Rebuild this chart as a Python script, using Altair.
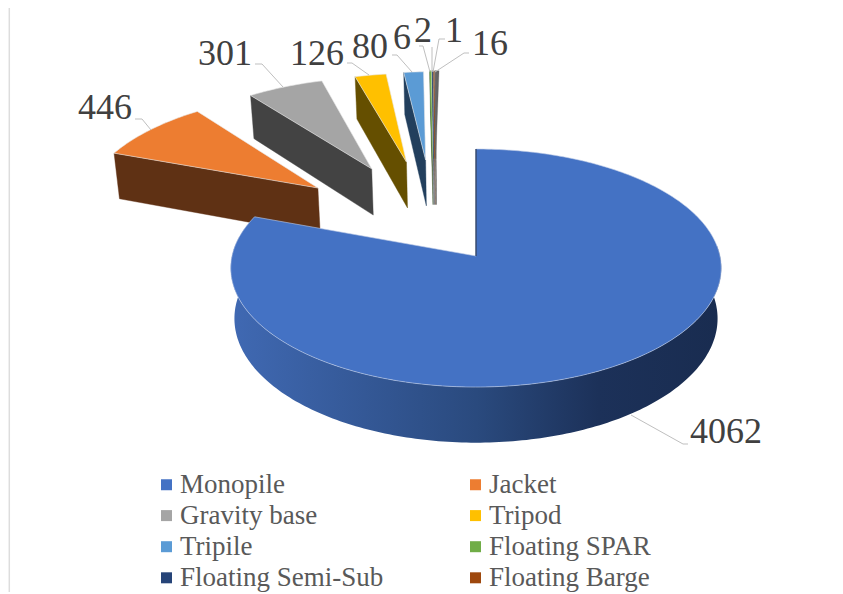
import math
import altair as alt
import pandas as pd

# ---- chart values ----
categories = ["Monopile", "Jacket", "Gravity base", "Tripod", "Tripile",
              "Floating SPAR", "Floating Semi-Sub", "Floating Barge", "Other"]
values = [4062, 446, 301, 126, 80, 6, 2, 1, 16]
top_colors = ["#4472C4", "#ED7D31", "#A5A5A5", "#FFC000", "#5B9BD5",
              "#70AD47", "#264478", "#9E480E", "#636363"]
wall_colors = ["#1A2D52", "#5F3114", "#434343", "#654F00", "#223F5D",
               "#2F4A1E", "#101C30", "#3F1D06", "#303030"]
# explosion of each slice in pie-radius units (sideways, backwards), and its radius
explode_u = [0, -0.688, -0.462, -0.31, -0.225, -0.195, -0.19, -0.185, -0.18]
explode_v = [0, 0.613, 0.800, 0.868, 0.888, 0.900, 0.900, 0.900, 0.900]
slice_scale = [1, 1, 0.99, 0.97, 0.97, 0.97, 0.97, 0.97, 0.97]

legend_names = categories[:8]
legend_colors = top_colors[:8]

label_x = [726, 105, 225, 317, 370, 402, 423, 454, 490]
label_y = [432, 108, 54, 54, 47, 38, 31, 31, 44]
leader_x = [[688, 683, 631], [135, 142, 151], [255, 262, 283], [347, 352, 369],
            [392, 397, 412], [419, 423, 430], [432, 432], [445, 439, 433], [469, 464, 435]]
leader_y = [[444, 444, 415], [119, 119, 130], [64, 64, 87], [63, 63, 75],
            [55, 55, 72], [46, 46, 72], [47, 72], [39, 39, 72], [53, 53, 72]]

# ---- pie geometry ----
CX, CY, R, S, K, DEPTH, TAPER = 476.0, 256.0, 244.0, 117.8, 0.101, 50.0, 0.015
W, H = 827, 584
FONT = "Liberation Serif"


def proj(u, v, z=0.0):
    d = 1 + K * v
    return CX + (R * u / d) * (1 - TAPER * z), CY - S * v / d + DEPTH * z / d


x_scale = alt.Scale(domain=[8, 8 + W], range=[0, W], nice=False, zero=False)
y_scale = alt.Scale(domain=[8, 8 + H], range=[0, H], nice=False, zero=False)


def poly(points, **mark):
    df = pd.DataFrame({"px": [p[0] for p in points], "py": [p[1] for p in points],
                       "i": list(range(len(points)))})
    return alt.Chart(df).mark_line(interpolate="linear", **mark).encode(
        x=alt.X("px:Q", scale=x_scale, axis=None),
        y=alt.Y("py:Q", scale=y_scale, axis=None),
        order="i:Q",
    )


def arc(a0, a1, du, dv, r=1.0, z=0.0, step=1.0):
    n = max(2, int(abs(a1 - a0) / step) + 1)
    out = []
    for j in range(n):
        a = math.radians(a0 + (a1 - a0) * j / (n - 1))
        out.append(proj(du + r * math.sin(a), dv + r * math.cos(a), z))
    return out


total = sum(values)
starts = []
acc = 0.0
for val in values:
    starts.append(acc / total * 360)
    acc += val
ends = starts[1:] + [360.0]

layers = []
# page border (left edge)
layers.append(poly([(9.3, 8), (9.3, 8 + H)], stroke="#DDDDDD", strokeWidth=1.5))

# exploded slices, far ones first
draw_order = [8, 7, 6, 5, 4, 3, 2, 1]
for idx in draw_order:
    du, dv, r = explode_u[idx], explode_v[idx], slice_scale[idx]
    a0, a1 = starts[idx], ends[idx]
    apex_t = proj(du, dv)
    apex_b = proj(du, dv, 1)
    left_t = arc(a0, a0, du, dv, r)[0]
    left_b = arc(a0, a0, du, dv, r, 1)[0]
    big = idx <= 4
    layers.append(poly([left_t, apex_t, apex_b, left_b, left_t],
                       fill=wall_colors[idx], stroke=wall_colors[idx], strokeWidth=0.4))
    top = [apex_t] + arc(a0, a1, du, dv, r) + [apex_t]
    layers.append(poly(top, fill=top_colors[idx],
                       stroke="#E8E8E8" if big else top_colors[idx],
                       strokeWidth=0.6 if big else 0.3))

# large slice: outer wall with its shading, then the top face
wall_pts = arc(85, ends[0], 0, 0)
wall_pts_b = arc(ends[0], 85, 0, 0, 1.0, 1)
layers.append(poly(wall_pts + wall_pts_b + [wall_pts[0]],
                   fill=alt.Gradient(gradient="linear", x1=0, y1=0, x2=1, y2=0,
                                     stops=[alt.GradientStop(offset=0, color="#4069B3"),
                                            alt.GradientStop(offset=0.5, color="#2A4A7E"),
                                            alt.GradientStop(offset=0.75, color="#1C3159"),
                                            alt.GradientStop(offset=1, color="#192C50")]),
                   strokeWidth=0))
top_pts = [proj(0, 0)] + arc(0, ends[0], 0, 0) + [proj(0, 0)]
layers.append(poly(top_pts, fill=top_colors[0], stroke="#BFCDE8", strokeWidth=0.6))
layers.append(poly([proj(0, 1), proj(0, 0)], stroke="#1A2D52", strokeWidth=1.2))

# leader lines
for lx, ly in zip(leader_x, leader_y):
    layers.append(poly(list(zip(lx, ly)), stroke="#BFBFBF", strokeWidth=1))

# value labels
labels = pd.DataFrame({"lx": label_x, "ly": label_y, "t": [str(v) for v in values]})
layers.append(alt.Chart(labels).mark_text(font=FONT, fontSize=36, color="#404040",
                                          align="center", baseline="middle").encode(
    x=alt.X("lx:Q", scale=x_scale, axis=None),
    y=alt.Y("ly:Q", scale=y_scale, axis=None),
    text="t:N"))

# legend
legend_df = pd.DataFrame({"name": legend_names})
layers.append(alt.Chart(legend_df).mark_point(filled=True, size=0).encode(
    x=alt.value(0), y=alt.value(0),
    color=alt.Color("name:N",
                    scale=alt.Scale(domain=legend_names, range=legend_colors),
                    legend=alt.Legend(
                        title=None, orient="none", legendX=145, legendY=463,
                        direction="horizontal", columns=2, columnPadding=78,
                        rowPadding=3.1, symbolType="square", symbolSize=121,
                        symbolOpacity=1, symbolStrokeWidth=0, labelFont=FONT,
                        labelFontSize=27, labelColor="#595959", labelOffset=0,
                        labelLimit=300, padding=0))))

chart = alt.layer(*layers).properties(
    width=W, height=H, padding=0, autosize=alt.AutoSizeParams(type="none"), background="white",
).configure_view(stroke=None)

chart.save("out.html", embed_options={"renderer": "svg", "actions": False})
